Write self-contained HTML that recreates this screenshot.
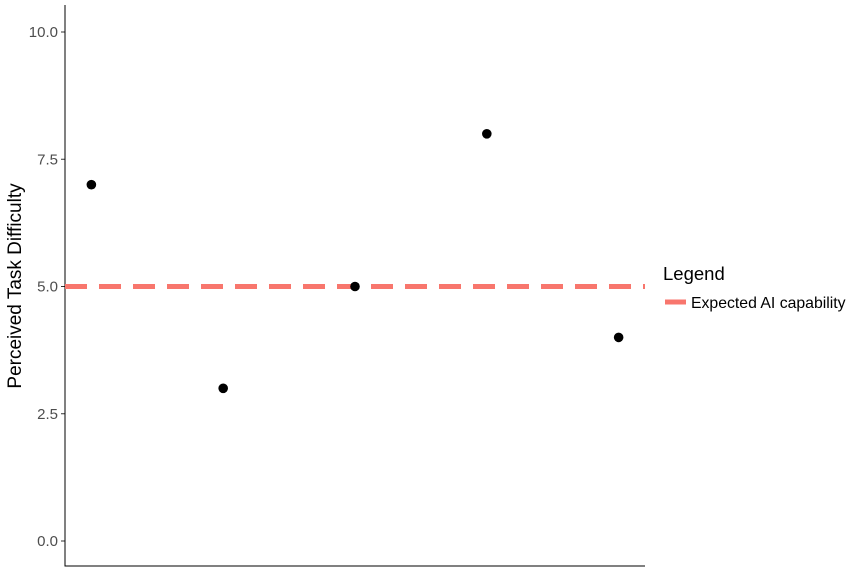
<!DOCTYPE html>
<html><head><meta charset="utf-8"><style>
body{margin:0;background:#fff}
svg{display:block;font-family:"Liberation Sans",Arial,sans-serif}
</style></head><body>
<svg id="chart" width="864" height="576" viewBox="0 0 864 576" xmlns="http://www.w3.org/2000/svg">
<g id="plot"></g>
<text transform="translate(21,286) rotate(-90)" text-anchor="middle" font-size="19" fill="#000">Perceived Task Difficulty</text>
<g>
<text x="663" y="280" font-size="18.5" fill="#000">Legend</text>
<line x1="665" y1="302" x2="686" y2="302" stroke="#F8766D" stroke-width="5"/>
<text x="691" y="308" font-size="15.8" fill="#000">Expected AI capability</text>
</g>
</svg>
<script>
const categories=[1,2,3,4,5];
const values=[7,3,5,8,4];
const yTicks=[0,2.5,5,7.5,10];
const yTickLabels=["0.0","2.5","5.0","7.5","10.0"];
const threshold=[5];
const ns="http://www.w3.org/2000/svg";
const L=65,R=645,T=5,B=566;
const x=v=>L+(v-0.8)/4.4*(R-L);
const y=v=>541-(v)*50.9;
const g=document.getElementById('plot');
function mk(t,a){const e=document.createElementNS(ns,t);for(const k in a)e.setAttribute(k,a[k]);g.appendChild(e);return e;}
yTicks.forEach((t,i)=>{
const tk=mk('line',{x1:L-4,x2:L,y1:y(t),y2:y(t),stroke:'#333','stroke-width':1});


const lb=mk('text',{x:L-7,y:y(t)+5,'text-anchor':'end','font-size':15,fill:'#4d4d4d'});
lb.textContent=yTickLabels[i];


});
const ax=mk('path',{d:`M${L},${T}V${B}H${R}`,fill:'none',stroke:'#000','stroke-width':1});


threshold.forEach(t=>{
const ln=mk('line',{x1:L,x2:R,y1:y(t),y2:y(t),stroke:'#F8766D','stroke-width':5,'stroke-dasharray':'22 12'});


});
categories.forEach((c,i)=>{
const p=mk('circle',{cx:x(c),cy:y(values[i]),r:4.8,fill:'#000'});


});
</script>
</body></html>
